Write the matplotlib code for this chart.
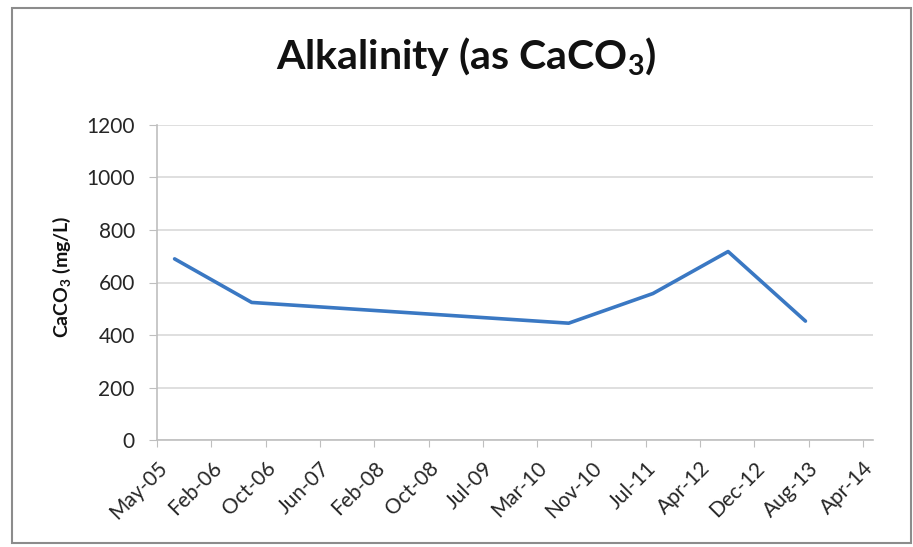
import datetime as dt
import matplotlib
matplotlib.use("Agg")
import matplotlib.pyplot as plt
from matplotlib.patches import Rectangle

# Sampled alkalinity results
sample_dates = ["2005-08-18", "2006-08-08", "2010-08-06", "2011-08-29", "2012-08-09", "2013-07-31"]
alkalinity = [690, 524, 445, 558, 718, 453]

# Date axis: start, step (days) and labels
axis_start = "2005-05-29"
tick_step_days = 250
tick_labels = ["May-05", "Feb-06", "Oct-06", "Jun-07", "Feb-08", "Oct-08", "Jul-09",
               "Mar-10", "Nov-10", "Jul-11", "Apr-12", "Dec-12", "Aug-13", "Apr-14"]
y_ticks = [0, 200, 400, 600, 800, 1000, 1200]

plt.rcParams["font.family"] = ["Lato", "DejaVu Sans"]
plt.rcParams["mathtext.fontset"] = "custom"
plt.rcParams["mathtext.rm"] = "Lato:bold"
plt.rcParams["mathtext.bf"] = "Lato:bold"
plt.rcParams["mathtext.it"] = "Lato:bold"

fig = plt.figure(figsize=(9.13, 5.47), dpi=100)
fig.patch.set_facecolor("white")
ax = fig.add_axes([157 / 913, 1 - 440 / 547, (873 - 157) / 913, (440 - 125) / 547])

x = [dt.datetime.strptime(d, "%Y-%m-%d") for d in sample_dates]
ax.plot(x, alkalinity, color="#3A78C3", lw=2.6, solid_joinstyle="round", solid_capstyle="round", zorder=3)

start = dt.datetime.strptime(axis_start, "%Y-%m-%d")
ticks = [start + dt.timedelta(days=tick_step_days * i) for i in range(len(tick_labels))]
ax.set_xlim(start, ticks[-1] + dt.timedelta(days=46))
ax.set_xticks(ticks)
ax.set_xticklabels(tick_labels, rotation=45, ha="right", va="top", rotation_mode="anchor")
ax.set_ylim(0, 1200)
ax.set_yticks(y_ticks)
ax.set_yticklabels([str(v) for v in y_ticks])

for lbl in ax.get_xticklabels() + ax.get_yticklabels():
    lbl.set_fontsize(15)
    lbl.set_color("#262626")

ax.grid(axis="y", color="#D9D9D9", lw=1.2)
ax.set_axisbelow(True)
for side in ("top", "right"):
    ax.spines[side].set_visible(False)
ax.spines["left"].set_color("#BFBFBF")
ax.spines["bottom"].set_color("#BFBFBF")
ax.spines["left"].set_linewidth(1.2)
ax.spines["bottom"].set_linewidth(1.2)
ax.tick_params(axis="y", direction="out", length=6, color="#BFBFBF", pad=10)
ax.tick_params(axis="x", direction="out", length=5, color="#BFBFBF", pad=8)

ax.set_ylabel(r"CaCO$_3$ (mg/L)", fontsize=14, fontweight="bold", color="#111111")
ax.yaxis.set_label_coords(-0.118, 0.52)

fig.text(466 / 913, 1 - 57 / 547, r"Alkalinity (as CaCO$_3$)", fontsize=29.5, fontweight="bold",
         ha="center", va="center", color="#111111")

# Chart frame
fig.patches.append(Rectangle((12 / 913, 1 - 543 / 547), (911 - 12) / 913, (543 - 8) / 547,
                             transform=fig.transFigure, fill=False, edgecolor="#8C8C8C", lw=1.5))

fig.savefig("out.png", dpi=100)
